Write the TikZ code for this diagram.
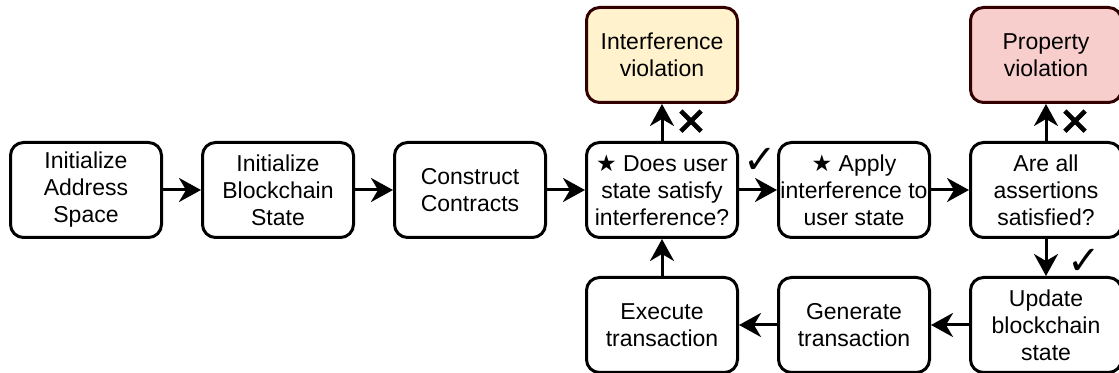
\documentclass[tikz,border=0pt]{standalone}
\usepackage{fontspec}
\setmainfont{Liberation Sans}
\newfontfamily\symfont{DejaVu Sans}
\newfontfamily\crossfont[FakeBold=2.5]{DejaVu Sans}
\usepackage{xcolor}
\usetikzlibrary{positioning, arrows.meta}
\definecolor{darkborder}{HTML}{330000}
\definecolor{interfill}{HTML}{FFF2CC}
\definecolor{propfill}{HTML}{F8CECC}

\begin{document}
\begin{tikzpicture}[node distance=18.5pt and 19pt,
	block/.style={rectangle, draw, line width=1.5pt, rounded corners=6.5pt, fill=white, minimum width=75.5pt, minimum height=47.5pt, inner sep=0pt, align=center, font=\fontsize{11.5}{13.5}\selectfont},
	failbox/.style={block, draw=darkborder},
	arrow/.style={-{Stealth[length=11pt, width=12pt, inset=3.5pt]}, line width=1.5pt},
	verdict/.style={inner sep=0pt, font=\symfont\fontsize{20}{20}\selectfont},
	cross/.style={inner sep=0pt, font=\crossfont\fontsize{19}{19}\selectfont}
	]
	\useasboundingbox (0,0) rectangle (559.5pt,-186.5pt);
	
	% NODES
	\node (addr) [block] at (43pt,-95pt) {Initialize\\Address\\Space};
	\node (chain) [block, right=of addr] {Initialize\\Blockchain\\State};
	\node (contracts) [block, right=of chain] {Construct\\Contracts};
	\node (check) [block, right=of contracts] {{\symfont ★} Does user\\state satisfy\\interference?};
	\node (apply) [block, right=of check] {{\symfont ★} Apply\\interference to\\user state};
	\node (assert) [block, right=of apply] {Are all\\assertions\\satisfied?};
	\node (interviol) [failbox, fill=interfill, above=of check] {Interference\\violation};
	\node (propviol) [failbox, fill=propfill, above=of assert] {Property\\violation};
	\node (update) [block, below=of assert] {Update\\blockchain\\state};
	\node (generate) [block, left=of update] {Generate\\transaction};
	\node (execute) [block, left=of generate] {Execute\\transaction};
	
	% ARROWS
	\draw[arrow] (addr) -- (chain);
	\draw[arrow] (chain) -- (contracts);
	\draw[arrow] (contracts) -- (check);
	\draw[arrow] (check) -- node[verdict, xshift=1pt, yshift=14.5pt] {✓} (apply);
	\draw[arrow] (apply) -- (assert);
	\draw[arrow] (check) -- node[cross, xshift=14.5pt] {✕} (interviol);
	\draw[arrow] (assert) -- node[cross, xshift=14.5pt] {✕} (propviol);
	\draw[arrow] (assert) -- node[verdict, xshift=19pt, yshift=-2pt] {✓} (update);
	\draw[arrow] (update) -- (generate);
	\draw[arrow] (generate) -- (execute);
	\draw[arrow] (execute) -- (check);
	
\end{tikzpicture}
\end{document}
